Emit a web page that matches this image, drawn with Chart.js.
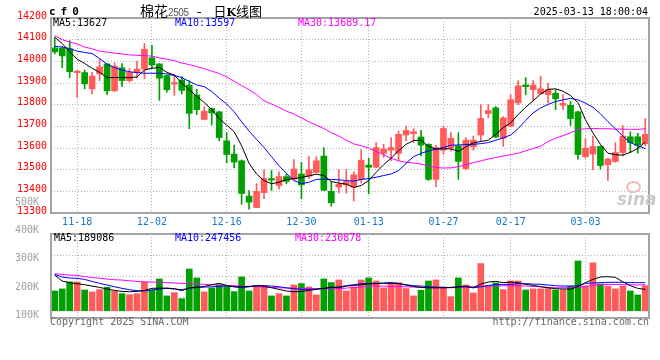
<!DOCTYPE html>
<html>
<head>
<meta charset="utf-8">
<title>cf0 日K线图</title>
<script src="https://cdn.jsdelivr.net/npm/chart.js@4.4.1/dist/chart.umd.min.js"></script>
<style>
  body { margin: 0; background: #fff; }
  #wrap { position: relative; width: 660px; height: 360px; overflow: hidden; font-family: "DejaVu Sans Mono", monospace; }
  #wrap canvas { position: absolute; left: 0; }
  #kline { top: 0; }
  #vol { top: 190px; }
  .t { position: absolute; white-space: nowrap; font-size: 10px; line-height: 12px; }
</style>
</head>
<body>
<div id="wrap">
  <canvas id="kline" width="660" height="235"></canvas>
  <canvas id="vol" width="660" height="170"></canvas>

  <div class="t" style="left:49px;top:5px;font-size:11px;line-height:13px;font-weight:bold;letter-spacing:5px;">cf0</div>
  <div class="t" style="left:140px;top:2px;line-height:16px;font-family:'Noto Sans CJK SC';font-size:14px;color:#000;">棉花<span style="font-family:'Liberation Sans';font-size:10px;letter-spacing:-0.4px;color:#555;">2505</span><span style="margin:0 12px 0 8px;">-</span><span style="font-size:13px;">日<b style="font-family:'DejaVu Serif';font-size:11px;">K</b>线图</span></div>
  <div class="t" style="right:12px;top:6px;color:#000;">2025-03-13 18:00:04</div>

  <div class="t" id="k-ma5" style="left:53px;top:17px;color:#000;"></div>
  <div class="t" id="k-ma10" style="left:175px;top:17px;color:#0000ff;"></div>
  <div class="t" id="k-ma30" style="left:298px;top:17px;color:#ff00ff;"></div>

  <div class="t" id="v-ma5" style="left:54px;top:232px;color:#000;"></div>
  <div class="t" id="v-ma10" style="left:175px;top:232px;color:#0000ff;"></div>
  <div class="t" id="v-ma30" style="left:295px;top:232px;color:#ff00ff;"></div>

  <div style="position:absolute;left:626px;top:181px;width:11px;height:8px;border:2px solid #f3bcbc;border-radius:50%;"></div>
  <div class="t" style="left:617px;top:189px;font-family:'DejaVu Sans';font-size:17px;line-height:20px;font-weight:bold;font-style:italic;color:#cacaca;">sina</div>

  <div class="t" style="left:50px;top:316px;color:#666;">Copyright 2025 SINA.COM</div>
  <div class="t" style="right:11px;top:316px;color:#666;">http://finance.sina.com.cn</div>
</div>

<script>
// trading days, 2024-11-13 .. 2025-03-13
const days = [
  '11-13','11-14','11-15','11-18','11-19','11-20','11-21','11-22','11-25','11-26','11-27','11-28','11-29',
  '12-02','12-03','12-04','12-05','12-06','12-09','12-10','12-11','12-12','12-13','12-16','12-17','12-18',
  '12-19','12-20','12-23','12-24','12-25','12-26','12-27','12-30','12-31',
  '01-02','01-03','01-06','01-07','01-08','01-09','01-10','01-13','01-14','01-15','01-16','01-17','01-20',
  '01-21','01-22','01-23','01-24','01-27',
  '02-05','02-06','02-07','02-10','02-11','02-12','02-13','02-14','02-17','02-18','02-19','02-20','02-21',
  '02-24','02-25','02-26','02-27','02-28',
  '03-03','03-04','03-05','03-06','03-07','03-10','03-11','03-12','03-13'
];
const tickDays = ['11-18', '12-02', '12-16', '12-30', '01-13', '01-27', '02-17', '03-03'];

const openPrice = [
  14062,14060,14058,13948,13948,13873,13942,13988,13864,13970,
  13911,13950,13964,14016,13988,13934,13895,13914,13891,13845,
  13732,13782,13767,13633,13572,13541,13378,13325,13394,13459,
  13427,13468,13455,13480,13470,13487,13563,13400,13420,13430,
  13420,13455,13521,13511,13576,13590,13575,13660,13666,13651,
  13617,13455,13590,13600,13610,13505,13605,13660,13759,13785,
  13645,13701,13808,13891,13869,13850,13846,13853,13797,13797,
  13767,13560,13572,13607,13523,13538,13579,13652,13652,13620
];
const highPrice = [
  14110,14068,14095,13957,13960,13949,14013,13990,13993,13990,
  13967,14001,14082,14074,13990,13937,13937,13929,13911,13870,
  13790,13785,13770,13671,13614,13545,13404,13435,13500,13496,
  13490,13480,13546,13534,13560,13560,13602,13443,13500,13500,
  13490,13592,13553,13625,13617,13648,13678,13701,13689,13681,
  13620,13613,13701,13671,13671,13648,13655,13800,13800,13792,
  13745,13846,13911,13925,13911,13932,13899,13869,13846,13815,
  13770,13645,13655,13610,13552,13625,13704,13675,13668,13736
];
const lowPrice = [
  14034,13970,13925,13834,13873,13850,13911,13846,13860,13884,
  13904,13922,13919,13968,13820,13858,13843,13850,13689,13755,
  13730,13706,13633,13531,13508,13340,13318,13324,13366,13404,
  13410,13435,13453,13366,13458,13485,13404,13331,13392,13392,
  13355,13438,13389,13508,13557,13541,13541,13633,13625,13564,
  13450,13420,13572,13587,13455,13500,13590,13633,13739,13648,
  13607,13697,13800,13846,13818,13849,13808,13777,13777,13704,
  13549,13554,13500,13503,13450,13534,13564,13579,13576,13610
];
const closePrice = [
  14044,14025,13952,13955,13896,13932,13974,13864,13978,13911,
  13949,13964,14056,13983,13922,13869,13902,13866,13760,13777,
  13770,13762,13648,13570,13535,13390,13350,13400,13459,13452,
  13468,13446,13503,13430,13500,13541,13405,13347,13432,13445,
  13476,13544,13511,13602,13595,13602,13663,13681,13675,13613,
  13455,13602,13690,13645,13538,13636,13636,13736,13773,13651,
  13739,13823,13887,13883,13891,13873,13869,13827,13806,13736,
  13570,13599,13607,13519,13549,13579,13655,13625,13613,13663
];

const ma5 = [
  14112,14082,14044,14010,13990,13968,13949,13925,13925,13925,
  13925,13928,13960,13968,13972,13949,13937,13899,13869,13838,
  13810,13777,13736,13706,13675,13610,13529,13480,13450,13435,
  13442,13455,13459,13464,13471,13479,13473,13445,13438,13433,
  13418,13427,13450,13488,13523,13553,13587,13617,13634,13637,
  13607,13595,13596,13596,13584,13605,13624,13630,13636,13663,
  13694,13716,13755,13788,13818,13849,13871,13873,13862,13842,
  13809,13730,13670,13617,13576,13569,13567,13580,13598,13627
];
const ma10 = [
  14069,14066,14059,14047,14041,14036,14013,13986,13971,13960,
  13952,13948,13945,13945,13945,13942,13934,13925,13907,13891,
  13883,13861,13830,13803,13767,13721,13678,13640,13602,13560,
  13518,13483,13450,13435,13442,13455,13456,13455,13453,13450,
  13447,13455,13459,13465,13473,13480,13496,13529,13560,13575,
  13587,13595,13602,13613,13614,13616,13617,13620,13625,13636,
  13647,13660,13690,13727,13762,13785,13801,13815,13822,13829,
  13822,13807,13788,13758,13722,13689,13655,13625,13610,13597
];
const ma30 = [
  14120,14100,14089,14080,14066,14058,14047,14043,14038,14034,
  14030,14028,14026,14024,14016,14010,14003,13992,13985,13976,
  13966,13955,13944,13928,13908,13888,13869,13846,13818,13803,
  13788,13770,13757,13739,13721,13706,13690,13671,13655,13636,
  13619,13610,13599,13584,13569,13553,13541,13534,13531,13526,
  13518,13509,13508,13508,13514,13523,13532,13541,13549,13556,
  13563,13569,13576,13587,13598,13608,13630,13645,13657,13670,
  13685,13689,13690,13689,13689,13687,13687,13686,13686,13689.17
];

const volume = [
  175000,193000,255000,255000,184000,166000,187000,208000,175000,151000,
  142000,151000,255000,184000,281000,131000,160000,107000,369000,290000,
  166000,202000,228000,213000,169000,299000,175000,217000,217000,131000,
  151000,131000,228000,240000,210000,140000,281000,249000,272000,175000,
  210000,272000,290000,263000,202000,243000,246000,196000,131000,181000,
  263000,272000,210000,125000,290000,228000,157000,417000,217000,246000,
  187000,263000,263000,184000,193000,193000,196000,184000,184000,217000,
  440000,217000,423000,237000,217000,193000,217000,175000,140000,221000
];
const volMa5 = [
  315000,262000,248000,239000,230000,218000,206000,192000,180000,171000,
  168000,171000,180000,198000,200000,200000,195000,177000,203000,209000,
  215000,230000,242000,224000,212000,212000,215000,221000,218000,203000,
  189000,174000,168000,171000,180000,189000,198000,209000,203000,218000,
  224000,230000,236000,239000,245000,248000,242000,227000,215000,206000,
  203000,203000,203000,206000,212000,218000,203000,236000,254000,259000,
  248000,254000,248000,233000,224000,212000,203000,195000,192000,192000,
  212000,248000,277000,298000,301000,295000,256000,221000,198000,189086
];
const volMa10 = [
  321000,298000,289000,286000,277000,259000,242000,227000,212000,198000,
  186000,177000,174000,183000,192000,198000,192000,186000,198000,206000,
  209000,212000,215000,218000,212000,203000,212000,221000,221000,218000,
  212000,203000,195000,189000,189000,192000,198000,203000,212000,221000,
  230000,239000,242000,242000,242000,242000,239000,230000,221000,218000,
  212000,209000,206000,206000,209000,212000,203000,212000,224000,230000,
  233000,233000,239000,239000,236000,233000,227000,221000,218000,218000,
  221000,242000,245000,248000,251000,251000,251000,248000,248000,247456
];
const volMa30 = [
  327000,321000,315000,312000,301000,295000,286000,280000,274000,271000,
  265000,259000,254000,254000,251000,248000,245000,242000,239000,236000,
  233000,230000,227000,224000,221000,218000,215000,212000,209000,206000,
  203000,200000,198000,198000,195000,195000,195000,192000,195000,200000,
  206000,212000,215000,218000,218000,215000,215000,212000,209000,206000,
  203000,203000,203000,203000,206000,209000,212000,215000,218000,218000,
  221000,221000,221000,218000,215000,212000,206000,203000,203000,203000,
  206000,215000,224000,230000,233000,233000,230000,230000,227000,230878
];

const priceMin = 13300;
const priceMax = 14200;
const priceStep = 100;
const volTicks = [100000, 200000, 300000, 400000, 500000];

const UP = '#ff5b5b';
const DOWN = '#00a000';
const GRID = '#b4b4b4';

Chart.defaults.font.family = "'DejaVu Sans Mono', monospace";
Chart.defaults.font.size = 10;

const candleColors = closePrice.map((c, i) => (c >= openPrice[i] ? UP : DOWN));
const bodies = openPrice.map((o, i) => [o, closePrice[i]]);
const wicks = lowPrice.map((l, i) => [l, highPrice[i]]);

function last(arr) {
  return arr[arr.length - 1];
}

function dateGrid(ctx) {
  return tickDays.includes(days[ctx.index]) ? GRID : 'rgba(0,0,0,0)';
}

function maLine(label, data, color, axis) {
  return {
    type: 'line', label, data, yAxisID: axis,
    borderColor: color, borderWidth: 1, pointRadius: 0, tension: 0, order: 0
  };
}

// grey box round each plot area
const frame = {
  id: 'frame',
  afterDraw(chart) {
    const { ctx, chartArea: a } = chart;
    ctx.save();
    ctx.strokeStyle = '#a4a4a4';
    ctx.lineWidth = 2;
    ctx.strokeRect(a.left, a.top, a.right - a.left, a.bottom - a.top);
    ctx.restore();
  }
};

new Chart(document.getElementById('kline'), {
  type: 'bar',
  data: {
    labels: days,
    datasets: [
      maLine('MA5', ma5, '#000000', 'y'),
      maLine('MA10', ma10, '#0000ff', 'y'),
      maLine('MA30', ma30, '#ff00ff', 'y'),
      { label: 'body', data: bodies, backgroundColor: candleColors, barThickness: 6, grouped: false, order: 1 },
      { label: 'wick', data: wicks, backgroundColor: candleColors, barThickness: 1, grouped: false, order: 2 }
    ]
  },
  options: {
    responsive: false,
    animation: false,
    layout: { padding: { top: 18, right: 11, left: 0, bottom: 0 } },
    plugins: { legend: { display: false }, tooltip: { enabled: false } },
    scales: {
      x: {
        offset: true,
        grid: { offset: false, drawTicks: false, color: dateGrid },
        border: { display: false, dash: [1, 2] },
        ticks: {
          autoSkip: false, maxRotation: 0, padding: 3, color: '#1478c8',
          callback: (v, i) => (tickDays.includes(days[i]) ? days[i] : '')
        },
        afterFit: (s) => { s.height = 22; }
      },
      y: {
        min: priceMin, max: priceMax,
        grid: { drawTicks: false, color: GRID },
        border: { display: false, dash: [1, 2] },
        ticks: { stepSize: priceStep, color: '#ff0000', padding: 4, labelOffset: -2, callback: (v) => String(v) },
        afterFit: (s) => { s.width = 51; }
      }
    }
  },
  plugins: [frame]
});

new Chart(document.getElementById('vol'), {
  type: 'bar',
  data: {
    labels: days,
    datasets: [
      maLine('MA5', volMa5, '#000000', 'yv'),
      maLine('MA10', volMa10, '#0000ff', 'yv'),
      maLine('MA30', volMa30, '#ff00ff', 'yv'),
      { label: 'volume', data: volume, yAxisID: 'yv', backgroundColor: candleColors, barThickness: 6, order: 1 }
    ]
  },
  options: {
    responsive: false,
    animation: false,
    layout: { padding: { top: 44, right: 11, left: 0, bottom: 42 } },
    plugins: { legend: { display: false }, tooltip: { enabled: false } },
    scales: {
      x: {
        offset: true,
        grid: { offset: false, drawTicks: false, color: dateGrid },
        border: { display: false, dash: [1, 2] },
        ticks: { display: false, autoSkip: false },
        afterFit: (s) => { s.height = 0; }
      },
      yv: {
        position: 'left',
        min: -64000, max: 678000,
        grid: { drawTicks: false, color: GRID },
        border: { display: false, dash: [1, 2] },
        ticks: { display: false },
        // three dotted rules splitting the box in quarters
        afterBuildTicks: (s) => { s.ticks = [1, 2, 3].map((q) => ({ value: s.min + (s.max - s.min) * q / 4 })); },
        afterFit: (s) => { s.width = 0; }
      },
      yl: {
        position: 'left',
        min: 90100, max: 387900,
        grid: { display: false },
        border: { display: false },
        ticks: { color: '#a0a0a0', padding: 4, callback: (v) => v / 1000 + 'K' },
        afterBuildTicks: (s) => { s.ticks = volTicks.map((v) => ({ value: v })); },
        afterFit: (s) => { s.width = 51; }
      }
    }
  },
  plugins: [frame]
});

document.getElementById('k-ma5').textContent = 'MA5:' + last(ma5);
document.getElementById('k-ma10').textContent = 'MA10:' + last(ma10);
document.getElementById('k-ma30').textContent = 'MA30:' + last(ma30);
document.getElementById('v-ma5').textContent = 'MA5:' + last(volMa5);
document.getElementById('v-ma10').textContent = 'MA10:' + last(volMa10);
document.getElementById('v-ma30').textContent = 'MA30:' + last(volMa30);
</script>
</body>
</html>
